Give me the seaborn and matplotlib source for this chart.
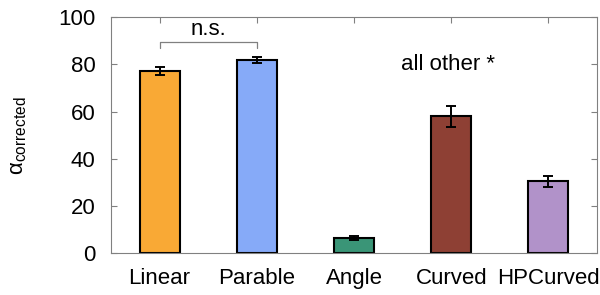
import matplotlib
matplotlib.use("Agg")
import matplotlib.pyplot as plt
import seaborn as sns
import pandas as pd

categories = ["Linear", "Parable", "Angle", "Curved", "HPCurved"]
values = [77.2, 81.8, 6.3, 57.9, 30.5]
errors = [1.7, 1.1, 0.8, 4.4, 2.3]
colors = ["#F9A935", "#86AAF8", "#3A9577", "#8E4034", "#B192C9"]
yticks = [0, 20, 40, 60, 80, 100]

sns.set_style("white")
plt.rcParams["font.family"] = ["Liberation Sans", "DejaVu Sans"]
plt.rcParams["mathtext.fontset"] = "custom"
plt.rcParams["mathtext.rm"] = "Liberation Sans"
plt.rcParams["mathtext.it"] = "Liberation Sans:italic"
plt.rcParams["text.color"] = "black"
plt.rcParams["axes.labelcolor"] = "black"
plt.rcParams["xtick.color"] = "black"
plt.rcParams["ytick.color"] = "black"

df = pd.DataFrame({"cat": categories, "val": values})

fig = plt.figure(figsize=(6, 2.95), dpi=100)
ax = fig.add_axes([0.185, 0.142, 0.81, 0.8])
sns.barplot(data=df, x="cat", y="val", hue="cat", palette=colors, legend=False,
            width=0.41, edgecolor="black", linewidth=1.5, saturation=1, ax=ax)
ax.errorbar(range(len(categories)), values, yerr=errors, fmt="none",
            ecolor="black", elinewidth=1.4, capsize=3.5, capthick=1.4)

ax.set_xlim(-0.5, 4.5)
ax.set_ylim(0, 100)
ax.set_yticks(yticks)
ax.set_xlabel("")
ax.set_ylabel(r"$\mathrm{\alpha}_{\mathrm{corrected}}$", fontsize=16)
ax.yaxis.set_label_coords(-0.168, 0.5)
ax.tick_params(axis="both", labelsize=16, direction="in", length=4,
               top=True, right=True, bottom=True, left=True, pad=11, width=0.8,
               labelcolor="black")
ax.tick_params(axis="both", color="#808080")
for s in ax.spines.values():
    s.set_visible(True)
    s.set_color("#808080")
    s.set_linewidth(0.8)

# significance bracket
ax.plot([0, 0, 1, 1], [86.8, 89.4, 89.4, 86.8], color="#808080", lw=0.9)
ax.text(0.5, 92.5, "n.s.", ha="center", va="baseline", fontsize=16)
ax.text(2.97, 80, "all other *", ha="center", va="center", fontsize=16)

fig.savefig("out.png", dpi=100)
